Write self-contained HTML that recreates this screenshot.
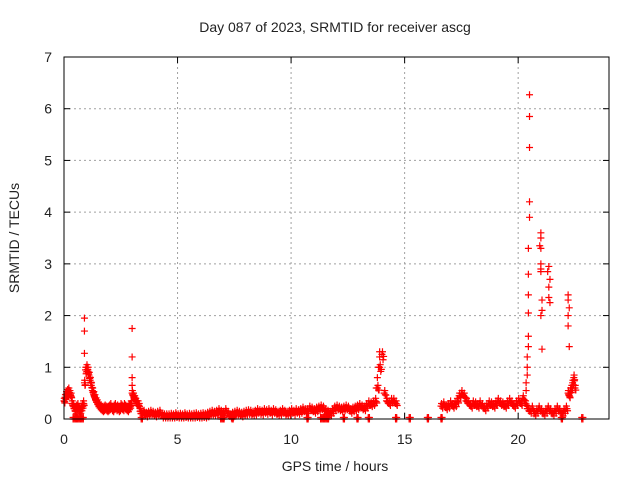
<!DOCTYPE html>
<html><head><meta charset="utf-8"><style>
html,body{margin:0;padding:0;background:#fff;}
svg{display:block;font-family:"Liberation Sans",sans-serif;}
</style></head><body>
<svg id="chart" width="640" height="480">
<rect width="640" height="480" fill="#fff"/>
<text x="335" y="32" font-size="14" text-anchor="middle" fill="#222">Day 087 of 2023, SRMTID for receiver ascg</text>
<text x="335" y="471" font-size="14" text-anchor="middle" fill="#222">GPS time / hours</text>
<text transform="translate(19,238) rotate(-90)" font-size="14" text-anchor="middle" fill="#222">SRMTID / TECUs</text>
<g id="grid"></g>
<g id="ticks"></g>
<g id="marks"></g>
<rect x="64" y="57" width="545" height="362" fill="none" stroke="#000" stroke-width="1"/>
</svg>
<script>
const xTicks=[0,5,10,15,20];
const yTicks=[0,1,2,3,4,5,6,7];
const seg1Start=0, seg1Step=0.05;
const seg1Values=[0.35,0.42,0.48,0.52,0.55,0.5,0.45,0.3,0.25,0.2,0.15,0.22,0.25,0.18,0.15,0.2,0.25,0.3,0.7,0.95,1.0,0.95,0.85,0.75,0.65,0.55,0.48,0.42,0.36,0.32,0.28,0.25,0.22,0.2,0.18,0.2,0.22,0.2,0.18,0.2,0.22,0.25,0.2,0.18,0.22,0.25,0.2,0.22,0.18,0.2,0.25,0.22,0.2,0.25,0.22,0.2,0.18,0.22,0.25,0.3,0.5,0.45,0.4,0.35,0.3,0.3,0.25,0.15];
const seg2Start=3.4, seg2Step=0.1;
const seg2Values=[0.1,0.12,0.08,0.1,0.12,0.1,0.08,0.1,0.12,0.06,0.05,0.05,0.05,0.06,0.05,0.07,0.05,0.06,0.05,0.07,0.05,0.06,0.05,0.06,0.07,0.05,0.06,0.07,0.06,0.08,0.1,0.12,0.1,0.12,0.15,0.12,0.1,0.15,0.1,0.05,0.08,0.1,0.12,0.1,0.08,0.1,0.12,0.13,0.12,0.1,0.12,0.15,0.13,0.12,0.15,0.13,0.15,0.12,0.15,0.13,0.1,0.12,0.15,0.12,0.1,0.12,0.15,0.12,0.15,0.13,0.15,0.18,0.15,0.15,0.2,0.18,0.15,0.18,0.2,0.22,0.2,0.15,0.12,0.1,0.15,0.2,0.22,0.2,0.18,0.2,0.22,0.2,0.15,0.18,0.2,0.22,0.25,0.22,0.2,0.25,0.3,0.28,0.3,0.35,0.6,1.0,1.25,0.5,0.35,0.3,0.35,0.35,0.3];
const seg3Start=16.6, seg3Step=0.1;
const seg3Values=[0.25,0.28,0.22,0.25,0.3,0.25,0.28,0.35,0.45,0.5,0.45,0.35,0.3,0.25,0.3,0.28,0.25,0.3,0.25,0.2,0.25,0.3,0.28,0.25,0.3,0.35,0.3,0.28,0.25,0.3,0.35,0.3,0.25,0.3,0.35,0.3,0.4];
const seg4Start=20.3, seg4Step=0.1;
const seg4Values=[0.3,0.2,0.15,0.2,0.1,0.15,0.2,0.15,0.1,0.15,0.2,0.15,0.1,0.15,0.2,0.15,0.1,0.15,0.2];
const seg5Start=22.2, seg5Step=0.05;
const seg5Values=[0.5,0.45,0.55,0.6,0.7,0.8,0.6];
const spikeTimes=[0.9,0.9,0.9,3.0,3.0,3.0,3.0,13.9,13.9,13.85,13.8,13.75,20.5,20.5,20.5,20.5,20.5,20.45,20.45,20.45,20.45,20.45,20.45,20.4,20.4,20.4,20.35,20.35,21.0,21.0,20.95,21.0,21.0,21.0,21.0,21.05,21.05,21.0,21.05,21.35,21.3,21.4,21.35,21.35,21.4,22.2,22.2,22.25,22.2,22.2,22.25];
const spikeValues=[1.95,1.7,1.27,1.75,1.2,0.8,0.65,1.3,1.2,1.0,0.8,0.6,6.27,5.85,5.25,4.2,3.9,3.3,2.8,2.4,2.05,1.6,1.4,1.2,1.0,0.85,0.7,0.55,3.6,3.5,3.35,3.3,3.0,2.9,2.85,2.3,2.1,2.0,1.35,2.95,2.85,2.7,2.55,2.35,2.25,2.4,2.3,2.15,2.0,1.8,1.4];
const zeroTimes=[0.4,0.5,0.6,0.7,0.8,3.4,6.9,7.0,7.4,10.7,11.3,11.4,11.5,11.6,12.3,12.9,13.4,14.6,15.2,16.0,16.6,21.9,22.8];

const NS="http://www.w3.org/2000/svg";
const L=64,R=609,T=57,B=419,XMAX=24,YMAX=7;
function xs(t){return L+(R-L)*t/XMAX;}
function ys(v){return B-(B-T)*v/YMAX;}
const grid=document.getElementById('grid'),ticks=document.getElementById('ticks'),marks=document.getElementById('marks');
function line(p,x1,y1,x2,y2,st,dash){const l=document.createElementNS(NS,'line');l.setAttribute('x1',x1);l.setAttribute('y1',y1);l.setAttribute('x2',x2);l.setAttribute('y2',y2);l.setAttribute('stroke',st);if(dash)l.setAttribute('stroke-dasharray',dash);p.appendChild(l);return l;}
function text(x,y,s,anchor,name){const e=document.createElementNS(NS,'text');e.setAttribute('x',x);e.setAttribute('y',y);e.setAttribute('font-size','14');e.setAttribute('fill','#222');e.setAttribute('text-anchor',anchor);e.textContent=s;


ticks.appendChild(e);}
xTicks.forEach(t=>{const x=xs(t);
if(t>0){const g=line(grid,x,T,x,B,'#a0a0a0','2,3');

}
line(ticks,x,B,x,B-6,'#000');line(ticks,x,T,x,T+6,'#000');
text(x,444,String(t),'middle','x-tick-label');});
yTicks.forEach(v=>{const y=ys(v);
if(v>0&&v<YMAX){const g=line(grid,L,y,R,y,'#a0a0a0','2,3');

}
line(ticks,L,y,L+6,y,'#000');line(ticks,R,y,R-6,y,'#000');
text(52,y+5,String(v),'end','y-tick-label');});
function plus(t,v){const x=xs(t),y=ys(v);const p=document.createElementNS(NS,'path');
p.setAttribute('d','M'+(x-3.5)+' '+y+'h7M'+x+' '+(y-3.5)+'v7');
p.setAttribute('stroke','#f00');p.setAttribute('stroke-width','1.2');p.setAttribute('fill','none');


marks.appendChild(p);}
[[seg1Start,seg1Step,seg1Values],[seg2Start,seg2Step,seg2Values],[seg3Start,seg3Step,seg3Values],[seg4Start,seg4Step,seg4Values],[seg5Start,seg5Step,seg5Values]].forEach(([s,st,vals])=>{
vals.forEach((v,i)=>{plus(s+i*st,v);plus(s+(i+0.5)*st,v*0.9+0.02);
plus(s+(i+0.25)*st,v+0.05);plus(s+(i+0.75)*st,Math.max(0.02,v-0.04));});});
spikeTimes.forEach((t,i)=>plus(t,spikeValues[i]));
zeroTimes.forEach(t=>{plus(t,0);plus(t+0.05,0);plus(t,0.03);plus(t+0.05,0.03);});
</script>
</body></html>
